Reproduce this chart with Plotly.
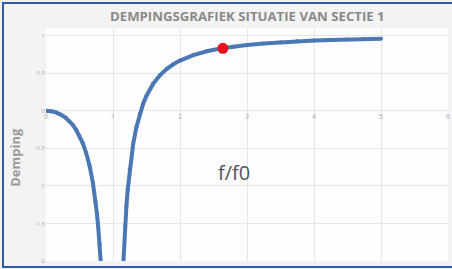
import plotly.graph_objects as go

# f/f0 values and damping (left branch, below resonance)
x_left = [0, 0.05, 0.1, 0.15, 0.2, 0.25, 0.3, 0.35, 0.4, 0.45, 0.5, 0.55, 0.6, 0.65,
          0.7, 0.72, 0.74, 0.76, 0.78, 0.8, 0.81, 0.82]
y_left = [0, -0.003, -0.010, -0.023, -0.042, -0.067, -0.099, -0.140, -0.190, -0.254,
          -0.333, -0.434, -0.563, -0.732, -0.961, -1.076, -1.210, -1.367, -1.554,
          -1.778, -1.908, -2.05]
# right branch, above resonance
x_right = [1.15, 1.16, 1.18, 1.2, 1.22, 1.25, 1.3, 1.35, 1.4, 1.45, 1.5, 1.6, 1.7, 1.8,
           1.9, 2.0, 2.2, 2.4, 2.6, 2.8, 3.0, 3.25, 3.5, 3.75, 4.0, 4.25, 4.5, 4.75, 5.0]
y_right = [-2.10, -1.894, -1.548, -1.273, -1.048, -0.778, -0.449, -0.216, -0.042, 0.093,
           0.2, 0.359, 0.471, 0.554, 0.617, 0.667, 0.740, 0.790, 0.826, 0.854, 0.875,
           0.895, 0.911, 0.923, 0.933, 0.941, 0.948, 0.954, 0.958]
# highlighted operating point
pt_x = [2.64]
pt_y = [0.83]

x_ticks = [0, 1, 2, 3, 4, 5, 6]
y_ticks = [1, 0.5, 0, -0.5, -1, -1.5, -2]
y_tick_text = ["1", "0.5", "0", "-0.5", "-1", "-1.5", "-2"]

title = "DEMPINGSGRAFIEK SITUATIE VAN SECTIE 1"
y_title = "Demping"
x_title = "f/f0"

blue = "#4a78b5"
fig = go.Figure()
for xs, ys in [(x_left, y_left), (x_right, y_right)]:
    fig.add_trace(go.Scatter(x=xs, y=ys, mode="lines+markers",
                             line=dict(color=blue, width=4),
                             marker=dict(color=blue, size=4),
                             showlegend=False, hoverinfo="skip"))
fig.add_trace(go.Scatter(x=pt_x, y=pt_y, mode="markers",
                         marker=dict(color="#e8101a", size=11),
                         showlegend=False))

ymin, ymax = -2.0, 1.1
fig.update_layout(
    width=452, height=269,
    margin=dict(l=46, r=4, t=28, b=8, autoexpand=False),
    paper_bgcolor="#f3f3f3",
    plot_bgcolor="#fdfdfd",
    font=dict(family="Open Sans, sans-serif", color="#999999"),
    xaxis=dict(range=[0, 6], tickvals=x_ticks, showgrid=True, gridcolor="#e6e6e6",
               gridwidth=1, zeroline=False, showline=False, anchor="free",
               position=(0 - ymin) / (ymax - ymin), ticks="", automargin=False,
               tickfont=dict(size=7, color="#aaaaaa")),
    yaxis=dict(range=[ymin, ymax], tickvals=y_ticks, ticktext=y_tick_text,
               showgrid=True, gridcolor="#e6e6e6", gridwidth=1, zeroline=False,
               showline=False, ticks="", automargin=False,
               tickfont=dict(size=6, color="#aaaaaa")),
    shapes=[dict(type="rect", xref="paper", yref="paper",
                 x0=-0.107, x1=1.1, y0=-0.026, y1=1.107,
                 line=dict(color="#2a5caa", width=2), layer="below")],
    annotations=[
        dict(text=title, xref="paper", yref="paper", x=0.5, y=1.05,
             xanchor="center", yanchor="middle", showarrow=False,
             font=dict(size=13.2, color="#8a8a8a", family="Open Sans, sans-serif", weight="bold")),
        dict(text=y_title, xref="paper", yref="paper", x=-0.076, y=0.445,
             xanchor="center", yanchor="middle", showarrow=False, textangle=-90,
             font=dict(size=13, color="#9a9a9a", family="Open Sans, sans-serif", weight="bold")),
        dict(text=x_title, xref="x", yref="y", x=2.8, y=-0.82,
             xanchor="center", yanchor="middle", showarrow=False,
             font=dict(size=20, color="#555555", family="Open Sans, sans-serif")),
    ],
)
fig.write_html("out.html", config={"displayModeBar": False},
               post_script="document.body.style.margin='0';document.body.style.overflow='hidden';")
